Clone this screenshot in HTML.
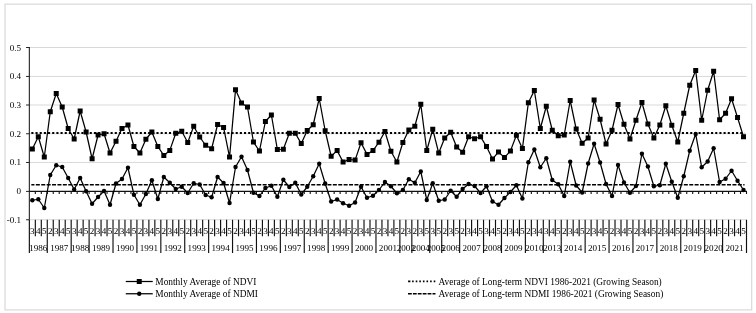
<!DOCTYPE html>
<html><head><meta charset="utf-8"><title>NDVI NDMI chart</title>
<style>html,body{margin:0;padding:0;background:#fff;}body{width:756px;height:313px;overflow:hidden;}svg{display:block;filter:grayscale(1);}text{font-family:"Liberation Serif",serif;fill:#000;}</style></head><body>
<svg width="756" height="313" viewBox="0 0 756 313">
<rect x="0" y="0" width="756" height="313" fill="#fff"/>
<g opacity="0.999">
<rect x="5.0" y="4.15" width="746.7" height="305.75" fill="none" stroke="#d9d9d9" stroke-width="1.2"/>
<line x1="29.35" y1="219.75" x2="746.5" y2="219.75" stroke="#d9d9d9" stroke-width="1"/>
<line x1="29.35" y1="162.47" x2="746.5" y2="162.47" stroke="#d9d9d9" stroke-width="1"/>
<line x1="29.35" y1="133.75" x2="746.5" y2="133.75" stroke="#d9d9d9" stroke-width="1"/>
<line x1="29.35" y1="105.00" x2="746.5" y2="105.00" stroke="#d9d9d9" stroke-width="1"/>
<line x1="29.35" y1="76.45" x2="746.5" y2="76.45" stroke="#d9d9d9" stroke-width="1"/>
<line x1="29.35" y1="47.50" x2="746.5" y2="47.50" stroke="#d9d9d9" stroke-width="1"/>
<line x1="26.05" y1="219.75" x2="29.35" y2="219.75" stroke="#222" stroke-width="1"/>
<text x="21.150000000000002" y="222.86" font-size="9.1" text-anchor="end">-0.1</text>
<line x1="26.05" y1="191.40" x2="29.35" y2="191.40" stroke="#222" stroke-width="1"/>
<text x="21.150000000000002" y="194.15" font-size="9.1" text-anchor="end">0</text>
<line x1="26.05" y1="162.47" x2="29.35" y2="162.47" stroke="#222" stroke-width="1"/>
<text x="21.150000000000002" y="165.44" font-size="9.1" text-anchor="end">0.1</text>
<line x1="26.05" y1="133.75" x2="29.35" y2="133.75" stroke="#222" stroke-width="1"/>
<text x="21.150000000000002" y="136.73" font-size="9.1" text-anchor="end">0.2</text>
<line x1="26.05" y1="105.00" x2="29.35" y2="105.00" stroke="#222" stroke-width="1"/>
<text x="21.150000000000002" y="108.02" font-size="9.1" text-anchor="end">0.3</text>
<line x1="26.05" y1="76.45" x2="29.35" y2="76.45" stroke="#222" stroke-width="1"/>
<text x="21.150000000000002" y="79.31" font-size="9.1" text-anchor="end">0.4</text>
<line x1="26.05" y1="47.50" x2="29.35" y2="47.50" stroke="#222" stroke-width="1"/>
<text x="21.150000000000002" y="50.60" font-size="9.1" text-anchor="end">0.5</text>
<line x1="29.35" y1="47.00" x2="29.35" y2="219.75" stroke="#222" stroke-width="1.1"/>
<line x1="29.35" y1="191.4" x2="747.0" y2="191.4" stroke="#111" stroke-width="1.1"/>
<path d="M35.33 191.4v2.7M41.30 191.4v2.7M47.28 191.4v2.7M53.25 191.4v2.7M59.23 191.4v2.7M65.21 191.4v2.7M71.18 191.4v2.7M77.16 191.4v2.7M83.14 191.4v2.7M89.11 191.4v2.7M95.09 191.4v2.7M101.06 191.4v2.7M107.04 191.4v2.7M113.02 191.4v2.7M118.99 191.4v2.7M124.97 191.4v2.7M130.95 191.4v2.7M136.92 191.4v2.7M142.90 191.4v2.7M148.88 191.4v2.7M154.85 191.4v2.7M160.83 191.4v2.7M166.80 191.4v2.7M172.78 191.4v2.7M178.76 191.4v2.7M184.73 191.4v2.7M190.71 191.4v2.7M196.68 191.4v2.7M202.66 191.4v2.7M208.64 191.4v2.7M214.61 191.4v2.7M220.59 191.4v2.7M226.57 191.4v2.7M232.54 191.4v2.7M238.52 191.4v2.7M244.49 191.4v2.7M250.47 191.4v2.7M256.45 191.4v2.7M262.42 191.4v2.7M268.40 191.4v2.7M274.38 191.4v2.7M280.35 191.4v2.7M286.33 191.4v2.7M292.31 191.4v2.7M298.28 191.4v2.7M304.26 191.4v2.7M310.23 191.4v2.7M316.21 191.4v2.7M322.19 191.4v2.7M328.16 191.4v2.7M334.14 191.4v2.7M340.12 191.4v2.7M346.09 191.4v2.7M352.07 191.4v2.7M358.04 191.4v2.7M364.02 191.4v2.7M370.00 191.4v2.7M375.97 191.4v2.7M381.95 191.4v2.7M387.93 191.4v2.7M393.90 191.4v2.7M399.88 191.4v2.7M405.85 191.4v2.7M411.83 191.4v2.7M417.81 191.4v2.7M423.78 191.4v2.7M429.76 191.4v2.7M435.73 191.4v2.7M441.71 191.4v2.7M447.69 191.4v2.7M453.66 191.4v2.7M459.64 191.4v2.7M465.62 191.4v2.7M471.59 191.4v2.7M477.57 191.4v2.7M483.54 191.4v2.7M489.52 191.4v2.7M495.50 191.4v2.7M501.47 191.4v2.7M507.45 191.4v2.7M513.43 191.4v2.7M519.40 191.4v2.7M525.38 191.4v2.7M531.35 191.4v2.7M537.33 191.4v2.7M543.31 191.4v2.7M549.28 191.4v2.7M555.26 191.4v2.7M561.24 191.4v2.7M567.21 191.4v2.7M573.19 191.4v2.7M579.16 191.4v2.7M585.14 191.4v2.7M591.12 191.4v2.7M597.09 191.4v2.7M603.07 191.4v2.7M609.05 191.4v2.7M615.02 191.4v2.7M621.00 191.4v2.7M626.97 191.4v2.7M632.95 191.4v2.7M638.93 191.4v2.7M644.90 191.4v2.7M650.88 191.4v2.7M656.86 191.4v2.7M662.83 191.4v2.7M668.81 191.4v2.7M674.78 191.4v2.7M680.76 191.4v2.7M686.74 191.4v2.7M692.71 191.4v2.7M698.69 191.4v2.7M704.67 191.4v2.7M710.64 191.4v2.7M716.62 191.4v2.7M722.59 191.4v2.7M728.57 191.4v2.7M734.55 191.4v2.7M740.52 191.4v2.7M746.50 191.4v2.7" stroke="#111" stroke-width="1.1" fill="none"/>
<text x="32.34" y="234.0" font-size="9.1" text-anchor="middle">3</text>
<text x="38.31" y="234.0" font-size="9.1" text-anchor="middle">4</text>
<text x="44.29" y="234.0" font-size="9.1" text-anchor="middle">5</text>
<text x="38.31" y="250.7" font-size="9.1" text-anchor="middle">1986</text>
<text x="50.27" y="234.0" font-size="9.1" text-anchor="middle">2</text>
<text x="56.24" y="234.0" font-size="9.1" text-anchor="middle">3</text>
<text x="62.22" y="234.0" font-size="9.1" text-anchor="middle">4</text>
<text x="68.20" y="234.0" font-size="9.1" text-anchor="middle">5</text>
<text x="59.23" y="250.7" font-size="9.1" text-anchor="middle">1987</text>
<text x="74.17" y="234.0" font-size="9.1" text-anchor="middle">3</text>
<text x="80.15" y="234.0" font-size="9.1" text-anchor="middle">4</text>
<text x="86.12" y="234.0" font-size="9.1" text-anchor="middle">5</text>
<text x="80.15" y="250.7" font-size="9.1" text-anchor="middle">1988</text>
<text x="92.10" y="234.0" font-size="9.1" text-anchor="middle">2</text>
<text x="98.08" y="234.0" font-size="9.1" text-anchor="middle">3</text>
<text x="104.05" y="234.0" font-size="9.1" text-anchor="middle">4</text>
<text x="110.03" y="234.0" font-size="9.1" text-anchor="middle">5</text>
<text x="101.06" y="250.7" font-size="9.1" text-anchor="middle">1989</text>
<text x="116.01" y="234.0" font-size="9.1" text-anchor="middle">2</text>
<text x="121.98" y="234.0" font-size="9.1" text-anchor="middle">3</text>
<text x="127.96" y="234.0" font-size="9.1" text-anchor="middle">4</text>
<text x="133.93" y="234.0" font-size="9.1" text-anchor="middle">5</text>
<text x="124.97" y="250.7" font-size="9.1" text-anchor="middle">1990</text>
<text x="139.91" y="234.0" font-size="9.1" text-anchor="middle">2</text>
<text x="145.89" y="234.0" font-size="9.1" text-anchor="middle">3</text>
<text x="151.86" y="234.0" font-size="9.1" text-anchor="middle">4</text>
<text x="157.84" y="234.0" font-size="9.1" text-anchor="middle">5</text>
<text x="148.88" y="250.7" font-size="9.1" text-anchor="middle">1991</text>
<text x="163.82" y="234.0" font-size="9.1" text-anchor="middle">2</text>
<text x="169.79" y="234.0" font-size="9.1" text-anchor="middle">3</text>
<text x="175.77" y="234.0" font-size="9.1" text-anchor="middle">4</text>
<text x="181.74" y="234.0" font-size="9.1" text-anchor="middle">5</text>
<text x="172.78" y="250.7" font-size="9.1" text-anchor="middle">1992</text>
<text x="187.72" y="234.0" font-size="9.1" text-anchor="middle">2</text>
<text x="193.70" y="234.0" font-size="9.1" text-anchor="middle">3</text>
<text x="199.67" y="234.0" font-size="9.1" text-anchor="middle">4</text>
<text x="205.65" y="234.0" font-size="9.1" text-anchor="middle">5</text>
<text x="196.68" y="250.7" font-size="9.1" text-anchor="middle">1993</text>
<text x="211.63" y="234.0" font-size="9.1" text-anchor="middle">2</text>
<text x="217.60" y="234.0" font-size="9.1" text-anchor="middle">3</text>
<text x="223.58" y="234.0" font-size="9.1" text-anchor="middle">4</text>
<text x="229.55" y="234.0" font-size="9.1" text-anchor="middle">5</text>
<text x="220.59" y="250.7" font-size="9.1" text-anchor="middle">1994</text>
<text x="235.53" y="234.0" font-size="9.1" text-anchor="middle">2</text>
<text x="241.51" y="234.0" font-size="9.1" text-anchor="middle">3</text>
<text x="247.48" y="234.0" font-size="9.1" text-anchor="middle">4</text>
<text x="253.46" y="234.0" font-size="9.1" text-anchor="middle">5</text>
<text x="244.49" y="250.7" font-size="9.1" text-anchor="middle">1995</text>
<text x="259.44" y="234.0" font-size="9.1" text-anchor="middle">2</text>
<text x="265.41" y="234.0" font-size="9.1" text-anchor="middle">3</text>
<text x="271.39" y="234.0" font-size="9.1" text-anchor="middle">4</text>
<text x="277.36" y="234.0" font-size="9.1" text-anchor="middle">5</text>
<text x="268.40" y="250.7" font-size="9.1" text-anchor="middle">1996</text>
<text x="283.34" y="234.0" font-size="9.1" text-anchor="middle">2</text>
<text x="289.32" y="234.0" font-size="9.1" text-anchor="middle">3</text>
<text x="295.29" y="234.0" font-size="9.1" text-anchor="middle">4</text>
<text x="301.27" y="234.0" font-size="9.1" text-anchor="middle">5</text>
<text x="292.31" y="250.7" font-size="9.1" text-anchor="middle">1997</text>
<text x="307.25" y="234.0" font-size="9.1" text-anchor="middle">2</text>
<text x="313.22" y="234.0" font-size="9.1" text-anchor="middle">3</text>
<text x="319.20" y="234.0" font-size="9.1" text-anchor="middle">4</text>
<text x="325.17" y="234.0" font-size="9.1" text-anchor="middle">5</text>
<text x="316.21" y="250.7" font-size="9.1" text-anchor="middle">1998</text>
<text x="331.15" y="234.0" font-size="9.1" text-anchor="middle">2</text>
<text x="337.13" y="234.0" font-size="9.1" text-anchor="middle">3</text>
<text x="343.10" y="234.0" font-size="9.1" text-anchor="middle">4</text>
<text x="349.08" y="234.0" font-size="9.1" text-anchor="middle">5</text>
<text x="340.12" y="250.7" font-size="9.1" text-anchor="middle">1999</text>
<text x="355.06" y="234.0" font-size="9.1" text-anchor="middle">2</text>
<text x="361.03" y="234.0" font-size="9.1" text-anchor="middle">3</text>
<text x="367.01" y="234.0" font-size="9.1" text-anchor="middle">4</text>
<text x="372.98" y="234.0" font-size="9.1" text-anchor="middle">5</text>
<text x="364.02" y="250.7" font-size="9.1" text-anchor="middle">2000</text>
<text x="378.96" y="234.0" font-size="9.1" text-anchor="middle">2</text>
<text x="384.94" y="234.0" font-size="9.1" text-anchor="middle">3</text>
<text x="390.91" y="234.0" font-size="9.1" text-anchor="middle">4</text>
<text x="396.89" y="234.0" font-size="9.1" text-anchor="middle">5</text>
<text x="387.93" y="250.7" font-size="9.1" text-anchor="middle">2001</text>
<text x="402.87" y="234.0" font-size="9.1" text-anchor="middle">2</text>
<text x="408.84" y="234.0" font-size="9.1" text-anchor="middle">3</text>
<text x="405.85" y="250.7" font-size="9.1" text-anchor="middle">2002</text>
<text x="414.82" y="234.0" font-size="9.1" text-anchor="middle">2</text>
<text x="420.79" y="234.0" font-size="9.1" text-anchor="middle">3</text>
<text x="426.77" y="234.0" font-size="9.1" text-anchor="middle">5</text>
<text x="420.79" y="250.7" font-size="9.1" text-anchor="middle">2004</text>
<text x="432.75" y="234.0" font-size="9.1" text-anchor="middle">3</text>
<text x="438.72" y="234.0" font-size="9.1" text-anchor="middle">5</text>
<text x="435.73" y="250.7" font-size="9.1" text-anchor="middle">2005</text>
<text x="444.70" y="234.0" font-size="9.1" text-anchor="middle">2</text>
<text x="450.68" y="234.0" font-size="9.1" text-anchor="middle">3</text>
<text x="456.65" y="234.0" font-size="9.1" text-anchor="middle">5</text>
<text x="450.68" y="250.7" font-size="9.1" text-anchor="middle">2006</text>
<text x="462.63" y="234.0" font-size="9.1" text-anchor="middle">2</text>
<text x="468.60" y="234.0" font-size="9.1" text-anchor="middle">3</text>
<text x="474.58" y="234.0" font-size="9.1" text-anchor="middle">4</text>
<text x="480.56" y="234.0" font-size="9.1" text-anchor="middle">5</text>
<text x="471.59" y="250.7" font-size="9.1" text-anchor="middle">2007</text>
<text x="486.53" y="234.0" font-size="9.1" text-anchor="middle">3</text>
<text x="492.51" y="234.0" font-size="9.1" text-anchor="middle">4</text>
<text x="498.49" y="234.0" font-size="9.1" text-anchor="middle">5</text>
<text x="492.51" y="250.7" font-size="9.1" text-anchor="middle">2008</text>
<text x="504.46" y="234.0" font-size="9.1" text-anchor="middle">2</text>
<text x="510.44" y="234.0" font-size="9.1" text-anchor="middle">3</text>
<text x="516.41" y="234.0" font-size="9.1" text-anchor="middle">4</text>
<text x="522.39" y="234.0" font-size="9.1" text-anchor="middle">5</text>
<text x="513.43" y="250.7" font-size="9.1" text-anchor="middle">2009</text>
<text x="528.37" y="234.0" font-size="9.1" text-anchor="middle">2</text>
<text x="534.34" y="234.0" font-size="9.1" text-anchor="middle">3</text>
<text x="540.32" y="234.0" font-size="9.1" text-anchor="middle">4</text>
<text x="534.34" y="250.7" font-size="9.1" text-anchor="middle">2010</text>
<text x="546.30" y="234.0" font-size="9.1" text-anchor="middle">3</text>
<text x="552.27" y="234.0" font-size="9.1" text-anchor="middle">4</text>
<text x="558.25" y="234.0" font-size="9.1" text-anchor="middle">5</text>
<text x="552.27" y="250.7" font-size="9.1" text-anchor="middle">2013</text>
<text x="564.22" y="234.0" font-size="9.1" text-anchor="middle">2</text>
<text x="570.20" y="234.0" font-size="9.1" text-anchor="middle">3</text>
<text x="576.18" y="234.0" font-size="9.1" text-anchor="middle">4</text>
<text x="582.15" y="234.0" font-size="9.1" text-anchor="middle">5</text>
<text x="573.19" y="250.7" font-size="9.1" text-anchor="middle">2014</text>
<text x="588.13" y="234.0" font-size="9.1" text-anchor="middle">2</text>
<text x="594.11" y="234.0" font-size="9.1" text-anchor="middle">3</text>
<text x="600.08" y="234.0" font-size="9.1" text-anchor="middle">4</text>
<text x="606.06" y="234.0" font-size="9.1" text-anchor="middle">5</text>
<text x="597.09" y="250.7" font-size="9.1" text-anchor="middle">2015</text>
<text x="612.03" y="234.0" font-size="9.1" text-anchor="middle">2</text>
<text x="618.01" y="234.0" font-size="9.1" text-anchor="middle">3</text>
<text x="623.99" y="234.0" font-size="9.1" text-anchor="middle">4</text>
<text x="629.96" y="234.0" font-size="9.1" text-anchor="middle">5</text>
<text x="621.00" y="250.7" font-size="9.1" text-anchor="middle">2016</text>
<text x="635.94" y="234.0" font-size="9.1" text-anchor="middle">2</text>
<text x="641.92" y="234.0" font-size="9.1" text-anchor="middle">3</text>
<text x="647.89" y="234.0" font-size="9.1" text-anchor="middle">4</text>
<text x="653.87" y="234.0" font-size="9.1" text-anchor="middle">5</text>
<text x="644.90" y="250.7" font-size="9.1" text-anchor="middle">2017</text>
<text x="659.84" y="234.0" font-size="9.1" text-anchor="middle">2</text>
<text x="665.82" y="234.0" font-size="9.1" text-anchor="middle">3</text>
<text x="671.80" y="234.0" font-size="9.1" text-anchor="middle">4</text>
<text x="677.77" y="234.0" font-size="9.1" text-anchor="middle">5</text>
<text x="668.81" y="250.7" font-size="9.1" text-anchor="middle">2018</text>
<text x="683.75" y="234.0" font-size="9.1" text-anchor="middle">2</text>
<text x="689.73" y="234.0" font-size="9.1" text-anchor="middle">3</text>
<text x="695.70" y="234.0" font-size="9.1" text-anchor="middle">4</text>
<text x="701.68" y="234.0" font-size="9.1" text-anchor="middle">5</text>
<text x="692.71" y="250.7" font-size="9.1" text-anchor="middle">2019</text>
<text x="707.65" y="234.0" font-size="9.1" text-anchor="middle">3</text>
<text x="713.63" y="234.0" font-size="9.1" text-anchor="middle">4</text>
<text x="719.61" y="234.0" font-size="9.1" text-anchor="middle">5</text>
<text x="713.63" y="250.7" font-size="9.1" text-anchor="middle">2020</text>
<text x="725.58" y="234.0" font-size="9.1" text-anchor="middle">2</text>
<text x="731.56" y="234.0" font-size="9.1" text-anchor="middle">3</text>
<text x="737.54" y="234.0" font-size="9.1" text-anchor="middle">4</text>
<text x="743.51" y="234.0" font-size="9.1" text-anchor="middle">5</text>
<text x="734.55" y="250.7" font-size="9.1" text-anchor="middle">2021</text>
<path d="M35.33 219.75V236.3M41.30 219.75V236.3M53.25 219.75V236.3M59.23 219.75V236.3M65.21 219.75V236.3M77.16 219.75V236.3M83.14 219.75V236.3M95.09 219.75V236.3M101.06 219.75V236.3M107.04 219.75V236.3M118.99 219.75V236.3M124.97 219.75V236.3M130.95 219.75V236.3M142.90 219.75V236.3M148.88 219.75V236.3M154.85 219.75V236.3M166.80 219.75V236.3M172.78 219.75V236.3M178.76 219.75V236.3M190.71 219.75V236.3M196.68 219.75V236.3M202.66 219.75V236.3M214.61 219.75V236.3M220.59 219.75V236.3M226.57 219.75V236.3M238.52 219.75V236.3M244.49 219.75V236.3M250.47 219.75V236.3M262.42 219.75V236.3M268.40 219.75V236.3M274.38 219.75V236.3M286.33 219.75V236.3M292.31 219.75V236.3M298.28 219.75V236.3M310.23 219.75V236.3M316.21 219.75V236.3M322.19 219.75V236.3M334.14 219.75V236.3M340.12 219.75V236.3M346.09 219.75V236.3M358.04 219.75V236.3M364.02 219.75V236.3M370.00 219.75V236.3M381.95 219.75V236.3M387.93 219.75V236.3M393.90 219.75V236.3M405.85 219.75V236.3M417.81 219.75V236.3M423.78 219.75V236.3M435.73 219.75V236.3M447.69 219.75V236.3M453.66 219.75V236.3M465.62 219.75V236.3M471.59 219.75V236.3M477.57 219.75V236.3M489.52 219.75V236.3M495.50 219.75V236.3M507.45 219.75V236.3M513.43 219.75V236.3M519.40 219.75V236.3M531.35 219.75V236.3M537.33 219.75V236.3M549.28 219.75V236.3M555.26 219.75V236.3M567.21 219.75V236.3M573.19 219.75V236.3M579.16 219.75V236.3M591.12 219.75V236.3M597.09 219.75V236.3M603.07 219.75V236.3M615.02 219.75V236.3M621.00 219.75V236.3M626.97 219.75V236.3M638.93 219.75V236.3M644.90 219.75V236.3M650.88 219.75V236.3M662.83 219.75V236.3M668.81 219.75V236.3M674.78 219.75V236.3M686.74 219.75V236.3M692.71 219.75V236.3M698.69 219.75V236.3M710.64 219.75V236.3M716.62 219.75V236.3M728.57 219.75V236.3M734.55 219.75V236.3M740.52 219.75V236.3" stroke="#111" stroke-width="1.15" fill="none"/>
<path d="M29.35 219.75V253.1M47.28 219.75V253.1M71.18 219.75V253.1M89.11 219.75V253.1M113.02 219.75V253.1M136.92 219.75V253.1M160.83 219.75V253.1M184.73 219.75V253.1M208.64 219.75V253.1M232.54 219.75V253.1M256.45 219.75V253.1M280.35 219.75V253.1M304.26 219.75V253.1M328.16 219.75V253.1M352.07 219.75V253.1M375.97 219.75V253.1M399.88 219.75V253.1M411.83 219.75V253.1M429.76 219.75V253.1M441.71 219.75V253.1M459.64 219.75V253.1M483.54 219.75V253.1M501.47 219.75V253.1M525.38 219.75V253.1M543.31 219.75V253.1M561.24 219.75V253.1M585.14 219.75V253.1M609.05 219.75V253.1M632.95 219.75V253.1M656.86 219.75V253.1M680.76 219.75V253.1M704.67 219.75V253.1M722.59 219.75V253.1M746.50 219.75V253.1" stroke="#111" stroke-width="1.15" fill="none"/>
<line x1="31.34" y1="133.0" x2="744.51" y2="133.0" stroke="#000" stroke-width="2" stroke-dasharray="2.1 2.07"/>
<line x1="31.34" y1="184.75" x2="744.51" y2="184.75" stroke="#000" stroke-width="1.4" stroke-dasharray="4 1.4" stroke-dashoffset="0.9"/>
<polyline points="32.34,149.00 38.31,136.75 44.29,157.00 50.27,111.75 56.24,93.50 62.22,107.00 68.20,128.50 74.17,139.00 80.15,111.00 86.12,132.00 92.10,158.75 98.08,135.00 104.05,133.75 110.03,153.00 116.01,141.25 121.98,128.50 127.96,125.00 133.93,146.50 139.91,153.00 145.89,139.25 151.86,132.00 157.84,146.50 163.82,155.40 169.79,150.40 175.77,133.25 181.74,131.25 187.72,142.50 193.70,126.25 199.67,137.00 205.65,145.25 211.63,148.75 217.60,124.50 223.58,127.50 229.55,157.10 235.53,89.75 241.51,103.00 247.48,107.00 253.46,142.00 259.44,151.00 265.41,121.50 271.39,115.00 277.36,149.50 283.34,149.25 289.32,133.25 295.29,133.25 301.27,143.60 307.25,130.50 313.22,124.75 319.20,98.50 325.17,130.75 331.15,156.25 337.13,150.60 343.10,162.00 349.08,159.50 355.06,160.10 361.03,142.75 367.01,154.40 372.98,150.60 378.96,142.25 384.94,131.50 390.91,151.25 396.89,162.00 402.87,142.50 408.84,130.00 414.82,126.25 420.79,104.25 426.77,150.50 432.75,129.25 438.72,153.10 444.70,138.00 450.68,132.25 456.65,147.00 462.63,152.25 468.60,136.75 474.58,138.75 480.56,136.75 486.53,146.60 492.51,159.10 498.49,151.90 504.46,157.60 510.44,150.90 516.41,135.25 522.39,148.60 528.37,102.75 534.34,90.50 540.32,128.50 546.30,106.25 552.27,130.25 558.25,135.75 564.22,135.00 570.20,100.50 576.18,129.00 582.15,143.25 588.13,138.00 594.11,100.00 600.08,119.25 606.06,144.00 612.03,130.25 618.01,104.50 623.99,124.25 629.96,139.00 635.94,120.25 641.92,102.50 647.89,124.00 653.87,138.00 659.84,125.00 665.82,105.75 671.80,125.25 677.77,142.00 683.75,113.25 689.73,85.25 695.70,70.50 701.68,120.25 707.65,90.25 713.63,71.25 719.61,119.75 725.58,113.25 731.56,98.75 737.54,117.50 743.51,136.75" fill="none" stroke="#000" stroke-width="1.25" stroke-linejoin="round"/>
<polyline points="32.34,200.25 38.31,199.25 44.29,208.00 50.27,175.00 56.24,165.25 62.22,167.00 68.20,178.00 74.17,189.50 80.15,178.00 86.12,191.25 92.10,203.75 98.08,197.00 104.05,191.00 110.03,204.75 116.01,183.50 121.98,179.00 127.96,167.75 133.93,194.75 139.91,204.75 145.89,194.00 151.86,180.25 157.84,199.00 163.82,177.00 169.79,182.75 175.77,189.00 181.74,186.75 187.72,193.00 193.70,183.25 199.67,184.50 205.65,195.00 211.63,197.25 217.60,177.00 223.58,183.00 229.55,203.00 235.53,167.00 241.51,156.75 247.48,170.00 253.46,192.75 259.44,196.00 265.41,188.00 271.39,185.75 277.36,196.75 283.34,179.75 289.32,187.00 295.29,182.75 301.27,194.50 307.25,186.75 313.22,176.25 319.20,163.75 325.17,183.50 331.15,201.50 337.13,199.50 343.10,203.25 349.08,205.75 355.06,202.50 361.03,186.75 367.01,197.75 372.98,195.75 378.96,190.00 384.94,182.00 390.91,186.25 396.89,193.25 402.87,190.00 408.84,179.25 414.82,182.75 420.79,171.50 426.77,200.00 432.75,183.25 438.72,200.75 444.70,199.50 450.68,190.75 456.65,196.75 462.63,189.00 468.60,184.00 474.58,186.00 480.56,193.00 486.53,186.25 492.51,201.50 498.49,204.75 504.46,198.00 510.44,192.00 516.41,185.25 522.39,198.50 528.37,162.25 534.34,149.50 540.32,167.25 546.30,158.25 552.27,180.00 558.25,184.25 564.22,196.00 570.20,161.75 576.18,185.50 582.15,192.50 588.13,163.50 594.11,143.75 600.08,162.50 606.06,184.00 612.03,196.00 618.01,165.00 623.99,182.50 629.96,192.75 635.94,186.00 641.92,153.75 647.89,166.50 653.87,186.25 659.84,185.25 665.82,163.75 671.80,181.75 677.77,197.75 683.75,176.25 689.73,150.75 695.70,134.00 701.68,167.25 707.65,161.50 713.63,148.25 719.61,182.00 725.58,178.75 731.56,170.75 737.54,180.75 743.51,190.00" fill="none" stroke="#000" stroke-width="1.25" stroke-linejoin="round"/>
<path d="M29.84 146.50h5.0v5.0h-5.0zM35.81 134.25h5.0v5.0h-5.0zM41.79 154.50h5.0v5.0h-5.0zM47.77 109.25h5.0v5.0h-5.0zM53.74 91.00h5.0v5.0h-5.0zM59.72 104.50h5.0v5.0h-5.0zM65.70 126.00h5.0v5.0h-5.0zM71.67 136.50h5.0v5.0h-5.0zM77.65 108.50h5.0v5.0h-5.0zM83.62 129.50h5.0v5.0h-5.0zM89.60 156.25h5.0v5.0h-5.0zM95.58 132.50h5.0v5.0h-5.0zM101.55 131.25h5.0v5.0h-5.0zM107.53 150.50h5.0v5.0h-5.0zM113.51 138.75h5.0v5.0h-5.0zM119.48 126.00h5.0v5.0h-5.0zM125.46 122.50h5.0v5.0h-5.0zM131.43 144.00h5.0v5.0h-5.0zM137.41 150.50h5.0v5.0h-5.0zM143.39 136.75h5.0v5.0h-5.0zM149.36 129.50h5.0v5.0h-5.0zM155.34 144.00h5.0v5.0h-5.0zM161.32 152.90h5.0v5.0h-5.0zM167.29 147.90h5.0v5.0h-5.0zM173.27 130.75h5.0v5.0h-5.0zM179.24 128.75h5.0v5.0h-5.0zM185.22 140.00h5.0v5.0h-5.0zM191.20 123.75h5.0v5.0h-5.0zM197.17 134.50h5.0v5.0h-5.0zM203.15 142.75h5.0v5.0h-5.0zM209.13 146.25h5.0v5.0h-5.0zM215.10 122.00h5.0v5.0h-5.0zM221.08 125.00h5.0v5.0h-5.0zM227.05 154.60h5.0v5.0h-5.0zM233.03 87.25h5.0v5.0h-5.0zM239.01 100.50h5.0v5.0h-5.0zM244.98 104.50h5.0v5.0h-5.0zM250.96 139.50h5.0v5.0h-5.0zM256.94 148.50h5.0v5.0h-5.0zM262.91 119.00h5.0v5.0h-5.0zM268.89 112.50h5.0v5.0h-5.0zM274.86 147.00h5.0v5.0h-5.0zM280.84 146.75h5.0v5.0h-5.0zM286.82 130.75h5.0v5.0h-5.0zM292.79 130.75h5.0v5.0h-5.0zM298.77 141.10h5.0v5.0h-5.0zM304.75 128.00h5.0v5.0h-5.0zM310.72 122.25h5.0v5.0h-5.0zM316.70 96.00h5.0v5.0h-5.0zM322.67 128.25h5.0v5.0h-5.0zM328.65 153.75h5.0v5.0h-5.0zM334.63 148.10h5.0v5.0h-5.0zM340.60 159.50h5.0v5.0h-5.0zM346.58 157.00h5.0v5.0h-5.0zM352.56 157.60h5.0v5.0h-5.0zM358.53 140.25h5.0v5.0h-5.0zM364.51 151.90h5.0v5.0h-5.0zM370.48 148.10h5.0v5.0h-5.0zM376.46 139.75h5.0v5.0h-5.0zM382.44 129.00h5.0v5.0h-5.0zM388.41 148.75h5.0v5.0h-5.0zM394.39 159.50h5.0v5.0h-5.0zM400.37 140.00h5.0v5.0h-5.0zM406.34 127.50h5.0v5.0h-5.0zM412.32 123.75h5.0v5.0h-5.0zM418.29 101.75h5.0v5.0h-5.0zM424.27 148.00h5.0v5.0h-5.0zM430.25 126.75h5.0v5.0h-5.0zM436.22 150.60h5.0v5.0h-5.0zM442.20 135.50h5.0v5.0h-5.0zM448.18 129.75h5.0v5.0h-5.0zM454.15 144.50h5.0v5.0h-5.0zM460.13 149.75h5.0v5.0h-5.0zM466.10 134.25h5.0v5.0h-5.0zM472.08 136.25h5.0v5.0h-5.0zM478.06 134.25h5.0v5.0h-5.0zM484.03 144.10h5.0v5.0h-5.0zM490.01 156.60h5.0v5.0h-5.0zM495.99 149.40h5.0v5.0h-5.0zM501.96 155.10h5.0v5.0h-5.0zM507.94 148.40h5.0v5.0h-5.0zM513.91 132.75h5.0v5.0h-5.0zM519.89 146.10h5.0v5.0h-5.0zM525.87 100.25h5.0v5.0h-5.0zM531.84 88.00h5.0v5.0h-5.0zM537.82 126.00h5.0v5.0h-5.0zM543.80 103.75h5.0v5.0h-5.0zM549.77 127.75h5.0v5.0h-5.0zM555.75 133.25h5.0v5.0h-5.0zM561.72 132.50h5.0v5.0h-5.0zM567.70 98.00h5.0v5.0h-5.0zM573.68 126.50h5.0v5.0h-5.0zM579.65 140.75h5.0v5.0h-5.0zM585.63 135.50h5.0v5.0h-5.0zM591.61 97.50h5.0v5.0h-5.0zM597.58 116.75h5.0v5.0h-5.0zM603.56 141.50h5.0v5.0h-5.0zM609.53 127.75h5.0v5.0h-5.0zM615.51 102.00h5.0v5.0h-5.0zM621.49 121.75h5.0v5.0h-5.0zM627.46 136.50h5.0v5.0h-5.0zM633.44 117.75h5.0v5.0h-5.0zM639.42 100.00h5.0v5.0h-5.0zM645.39 121.50h5.0v5.0h-5.0zM651.37 135.50h5.0v5.0h-5.0zM657.34 122.50h5.0v5.0h-5.0zM663.32 103.25h5.0v5.0h-5.0zM669.30 122.75h5.0v5.0h-5.0zM675.27 139.50h5.0v5.0h-5.0zM681.25 110.75h5.0v5.0h-5.0zM687.23 82.75h5.0v5.0h-5.0zM693.20 68.00h5.0v5.0h-5.0zM699.18 117.75h5.0v5.0h-5.0zM705.15 87.75h5.0v5.0h-5.0zM711.13 68.75h5.0v5.0h-5.0zM717.11 117.25h5.0v5.0h-5.0zM723.08 110.75h5.0v5.0h-5.0zM729.06 96.25h5.0v5.0h-5.0zM735.04 115.00h5.0v5.0h-5.0zM741.01 134.25h5.0v5.0h-5.0z" fill="#000"/>
<circle cx="32.34" cy="200.25" r="2.2" fill="#000"/>
<circle cx="38.31" cy="199.25" r="2.2" fill="#000"/>
<circle cx="44.29" cy="208.00" r="2.2" fill="#000"/>
<circle cx="50.27" cy="175.00" r="2.2" fill="#000"/>
<circle cx="56.24" cy="165.25" r="2.2" fill="#000"/>
<circle cx="62.22" cy="167.00" r="2.2" fill="#000"/>
<circle cx="68.20" cy="178.00" r="2.2" fill="#000"/>
<circle cx="74.17" cy="189.50" r="2.2" fill="#000"/>
<circle cx="80.15" cy="178.00" r="2.2" fill="#000"/>
<circle cx="86.12" cy="191.25" r="2.2" fill="#000"/>
<circle cx="92.10" cy="203.75" r="2.2" fill="#000"/>
<circle cx="98.08" cy="197.00" r="2.2" fill="#000"/>
<circle cx="104.05" cy="191.00" r="2.2" fill="#000"/>
<circle cx="110.03" cy="204.75" r="2.2" fill="#000"/>
<circle cx="116.01" cy="183.50" r="2.2" fill="#000"/>
<circle cx="121.98" cy="179.00" r="2.2" fill="#000"/>
<circle cx="127.96" cy="167.75" r="2.2" fill="#000"/>
<circle cx="133.93" cy="194.75" r="2.2" fill="#000"/>
<circle cx="139.91" cy="204.75" r="2.2" fill="#000"/>
<circle cx="145.89" cy="194.00" r="2.2" fill="#000"/>
<circle cx="151.86" cy="180.25" r="2.2" fill="#000"/>
<circle cx="157.84" cy="199.00" r="2.2" fill="#000"/>
<circle cx="163.82" cy="177.00" r="2.2" fill="#000"/>
<circle cx="169.79" cy="182.75" r="2.2" fill="#000"/>
<circle cx="175.77" cy="189.00" r="2.2" fill="#000"/>
<circle cx="181.74" cy="186.75" r="2.2" fill="#000"/>
<circle cx="187.72" cy="193.00" r="2.2" fill="#000"/>
<circle cx="193.70" cy="183.25" r="2.2" fill="#000"/>
<circle cx="199.67" cy="184.50" r="2.2" fill="#000"/>
<circle cx="205.65" cy="195.00" r="2.2" fill="#000"/>
<circle cx="211.63" cy="197.25" r="2.2" fill="#000"/>
<circle cx="217.60" cy="177.00" r="2.2" fill="#000"/>
<circle cx="223.58" cy="183.00" r="2.2" fill="#000"/>
<circle cx="229.55" cy="203.00" r="2.2" fill="#000"/>
<circle cx="235.53" cy="167.00" r="2.2" fill="#000"/>
<circle cx="241.51" cy="156.75" r="2.2" fill="#000"/>
<circle cx="247.48" cy="170.00" r="2.2" fill="#000"/>
<circle cx="253.46" cy="192.75" r="2.2" fill="#000"/>
<circle cx="259.44" cy="196.00" r="2.2" fill="#000"/>
<circle cx="265.41" cy="188.00" r="2.2" fill="#000"/>
<circle cx="271.39" cy="185.75" r="2.2" fill="#000"/>
<circle cx="277.36" cy="196.75" r="2.2" fill="#000"/>
<circle cx="283.34" cy="179.75" r="2.2" fill="#000"/>
<circle cx="289.32" cy="187.00" r="2.2" fill="#000"/>
<circle cx="295.29" cy="182.75" r="2.2" fill="#000"/>
<circle cx="301.27" cy="194.50" r="2.2" fill="#000"/>
<circle cx="307.25" cy="186.75" r="2.2" fill="#000"/>
<circle cx="313.22" cy="176.25" r="2.2" fill="#000"/>
<circle cx="319.20" cy="163.75" r="2.2" fill="#000"/>
<circle cx="325.17" cy="183.50" r="2.2" fill="#000"/>
<circle cx="331.15" cy="201.50" r="2.2" fill="#000"/>
<circle cx="337.13" cy="199.50" r="2.2" fill="#000"/>
<circle cx="343.10" cy="203.25" r="2.2" fill="#000"/>
<circle cx="349.08" cy="205.75" r="2.2" fill="#000"/>
<circle cx="355.06" cy="202.50" r="2.2" fill="#000"/>
<circle cx="361.03" cy="186.75" r="2.2" fill="#000"/>
<circle cx="367.01" cy="197.75" r="2.2" fill="#000"/>
<circle cx="372.98" cy="195.75" r="2.2" fill="#000"/>
<circle cx="378.96" cy="190.00" r="2.2" fill="#000"/>
<circle cx="384.94" cy="182.00" r="2.2" fill="#000"/>
<circle cx="390.91" cy="186.25" r="2.2" fill="#000"/>
<circle cx="396.89" cy="193.25" r="2.2" fill="#000"/>
<circle cx="402.87" cy="190.00" r="2.2" fill="#000"/>
<circle cx="408.84" cy="179.25" r="2.2" fill="#000"/>
<circle cx="414.82" cy="182.75" r="2.2" fill="#000"/>
<circle cx="420.79" cy="171.50" r="2.2" fill="#000"/>
<circle cx="426.77" cy="200.00" r="2.2" fill="#000"/>
<circle cx="432.75" cy="183.25" r="2.2" fill="#000"/>
<circle cx="438.72" cy="200.75" r="2.2" fill="#000"/>
<circle cx="444.70" cy="199.50" r="2.2" fill="#000"/>
<circle cx="450.68" cy="190.75" r="2.2" fill="#000"/>
<circle cx="456.65" cy="196.75" r="2.2" fill="#000"/>
<circle cx="462.63" cy="189.00" r="2.2" fill="#000"/>
<circle cx="468.60" cy="184.00" r="2.2" fill="#000"/>
<circle cx="474.58" cy="186.00" r="2.2" fill="#000"/>
<circle cx="480.56" cy="193.00" r="2.2" fill="#000"/>
<circle cx="486.53" cy="186.25" r="2.2" fill="#000"/>
<circle cx="492.51" cy="201.50" r="2.2" fill="#000"/>
<circle cx="498.49" cy="204.75" r="2.2" fill="#000"/>
<circle cx="504.46" cy="198.00" r="2.2" fill="#000"/>
<circle cx="510.44" cy="192.00" r="2.2" fill="#000"/>
<circle cx="516.41" cy="185.25" r="2.2" fill="#000"/>
<circle cx="522.39" cy="198.50" r="2.2" fill="#000"/>
<circle cx="528.37" cy="162.25" r="2.2" fill="#000"/>
<circle cx="534.34" cy="149.50" r="2.2" fill="#000"/>
<circle cx="540.32" cy="167.25" r="2.2" fill="#000"/>
<circle cx="546.30" cy="158.25" r="2.2" fill="#000"/>
<circle cx="552.27" cy="180.00" r="2.2" fill="#000"/>
<circle cx="558.25" cy="184.25" r="2.2" fill="#000"/>
<circle cx="564.22" cy="196.00" r="2.2" fill="#000"/>
<circle cx="570.20" cy="161.75" r="2.2" fill="#000"/>
<circle cx="576.18" cy="185.50" r="2.2" fill="#000"/>
<circle cx="582.15" cy="192.50" r="2.2" fill="#000"/>
<circle cx="588.13" cy="163.50" r="2.2" fill="#000"/>
<circle cx="594.11" cy="143.75" r="2.2" fill="#000"/>
<circle cx="600.08" cy="162.50" r="2.2" fill="#000"/>
<circle cx="606.06" cy="184.00" r="2.2" fill="#000"/>
<circle cx="612.03" cy="196.00" r="2.2" fill="#000"/>
<circle cx="618.01" cy="165.00" r="2.2" fill="#000"/>
<circle cx="623.99" cy="182.50" r="2.2" fill="#000"/>
<circle cx="629.96" cy="192.75" r="2.2" fill="#000"/>
<circle cx="635.94" cy="186.00" r="2.2" fill="#000"/>
<circle cx="641.92" cy="153.75" r="2.2" fill="#000"/>
<circle cx="647.89" cy="166.50" r="2.2" fill="#000"/>
<circle cx="653.87" cy="186.25" r="2.2" fill="#000"/>
<circle cx="659.84" cy="185.25" r="2.2" fill="#000"/>
<circle cx="665.82" cy="163.75" r="2.2" fill="#000"/>
<circle cx="671.80" cy="181.75" r="2.2" fill="#000"/>
<circle cx="677.77" cy="197.75" r="2.2" fill="#000"/>
<circle cx="683.75" cy="176.25" r="2.2" fill="#000"/>
<circle cx="689.73" cy="150.75" r="2.2" fill="#000"/>
<circle cx="695.70" cy="134.00" r="2.2" fill="#000"/>
<circle cx="701.68" cy="167.25" r="2.2" fill="#000"/>
<circle cx="707.65" cy="161.50" r="2.2" fill="#000"/>
<circle cx="713.63" cy="148.25" r="2.2" fill="#000"/>
<circle cx="719.61" cy="182.00" r="2.2" fill="#000"/>
<circle cx="725.58" cy="178.75" r="2.2" fill="#000"/>
<circle cx="731.56" cy="170.75" r="2.2" fill="#000"/>
<circle cx="737.54" cy="180.75" r="2.2" fill="#000"/>
<circle cx="743.51" cy="190.00" r="2.2" fill="#000"/>
<line x1="125.75" y1="281.5" x2="152.75" y2="281.5" stroke="#000" stroke-width="1.25"/>
<rect x="136.75" y="279.0" width="5" height="5" fill="#000"/>
<text x="155.3" y="284.6" font-size="9.4">Monthly Average of NDVI</text>
<line x1="125.75" y1="293.75" x2="152.75" y2="293.75" stroke="#000" stroke-width="1.25"/>
<circle cx="139.25" cy="293.75" r="2.2" fill="#000"/>
<text x="155.3" y="296.9" font-size="9.4">Monthly Average of NDMI</text>
<line x1="408.1" y1="281.4" x2="435.3" y2="281.4" stroke="#000" stroke-width="1.9" stroke-dasharray="2.3 1.7 1.6 2.0 1.6 2.0 1.6 2.0 1.6 2.0 1.6 2.0 1.6 2.0 1.6 2.0 1.6 2.0"/>
<text x="438.5" y="284.6" font-size="9.4">Average of Long-term NDVI 1986-2021 (Growing Season)</text>
<line x1="408" y1="293.75" x2="435.5" y2="293.75" stroke="#000" stroke-width="1.5" stroke-dasharray="3.8 1.1"/>
<text x="438.5" y="296.9" font-size="9.4">Average of Long-term NDMI 1986-2021 (Growing Season)</text>
</g></svg></body></html>
